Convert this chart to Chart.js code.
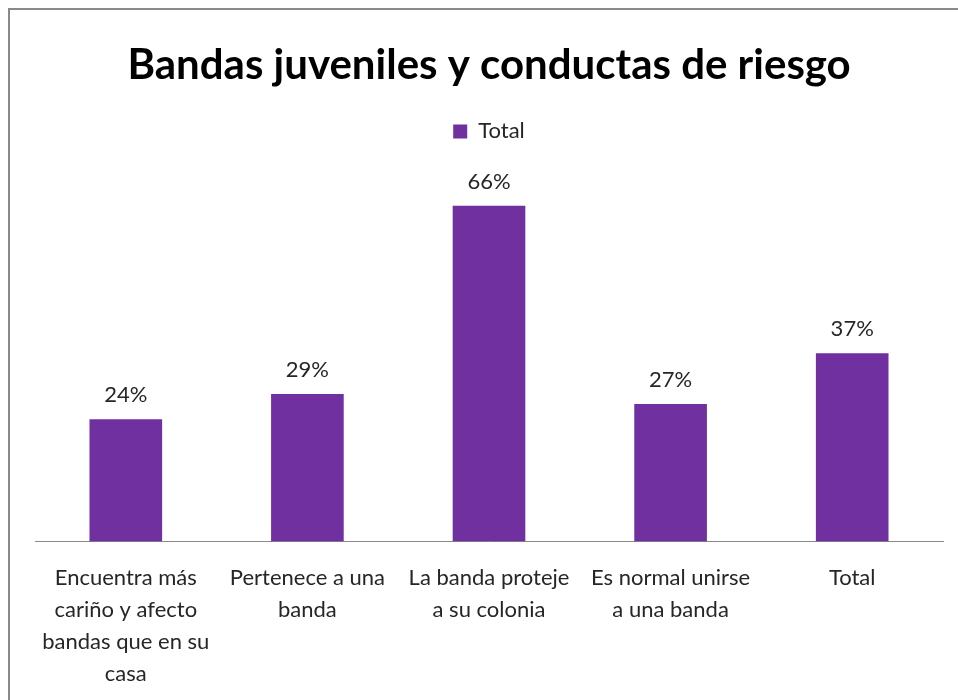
<!DOCTYPE html>
<html>
<head>
<meta charset="utf-8">
<script src="https://cdn.jsdelivr.net/npm/chart.js@4/dist/chart.umd.min.js"></script>
<style>
    html, body { margin: 0; padding: 0; background: #fff; }
    #wrap { position: relative; width: 958px; height: 700px; overflow: hidden; }
    #frame { position: absolute; left: 8px; top: 8px; width: 1000px; height: 800px; border: 2px solid #898989; box-sizing: border-box; }
    #chart { position: absolute; left: 0; top: 0; }
</style>
</head>
<body>
<div id="wrap">
    <div id="frame"></div>
    <canvas id="chart" width="958" height="700"></canvas>
</div>
<script>
const categories = [
    ['Encuentra más', 'cariño y afecto', 'bandas que en su', 'casa'],
    ['Pertenece a una', 'banda'],
    ['La banda proteje', 'a su colonia'],
    ['Es normal unirse', 'a una banda'],
    ['Total']
];
const totalValues = [24, 29, 66, 27, 37];
const seriesName = 'Total';

const FONT = 'Lato, "Open Sans", sans-serif';

// percent labels above each bar
const valueLabels = {
    id: 'valueLabels',
    afterDatasetsDraw(chart) {
        const ctx = chart.ctx;
        const meta = chart.getDatasetMeta(0);
        ctx.save();
        ctx.font = '22px ' + FONT;
        ctx.fillStyle = '#262626';
        ctx.textAlign = 'center';
        ctx.textBaseline = 'middle';
        meta.data.forEach((bar, i) => {
            ctx.fillText(totalValues[i] + '%', bar.x, bar.y - 24);
        });
        ctx.restore();
    }
};

new Chart(document.getElementById('chart'), {
    type: 'bar',
    data: {
        labels: categories,
        datasets: [{
            label: seriesName,
            data: totalValues,
            backgroundColor: '#7030A0',
            barPercentage: 0.4,
            categoryPercentage: 1
        }]
    },
    options: {
        responsive: false,
        animation: false,
        layout: { padding: { left: 35, right: 15, top: 20, bottom: -11 } },
        plugins: {
            title: {
                display: true,
                text: 'Bandas juveniles y conductas de riesgo',
                color: '#000',
                font: { family: FONT, size: 42, weight: 'bold' },
                padding: { top: 20, bottom: 20 }
            },
            legend: {
                display: true,
                labels: {
                    color: '#262626',
                    font: { family: FONT, size: 22 },
                    boxWidth: 14,
                    boxHeight: 14,
                    padding: 10
                }
            },
            tooltip: { enabled: false }
        },
        scales: {
            x: {
                grid: { display: true, drawOnChartArea: false, drawTicks: false },
                border: { display: true, color: '#898989', width: 1 },
                ticks: {
                    color: '#262626',
                    font: { family: FONT, size: 22, lineHeight: 1.45 },
                    padding: 21,
                    maxRotation: 0
                }
            },
            y: {
                display: false,
                min: 0,
                max: 76.5
            }
        }
    },
    plugins: [valueLabels]
});
</script>
</body>
</html>
